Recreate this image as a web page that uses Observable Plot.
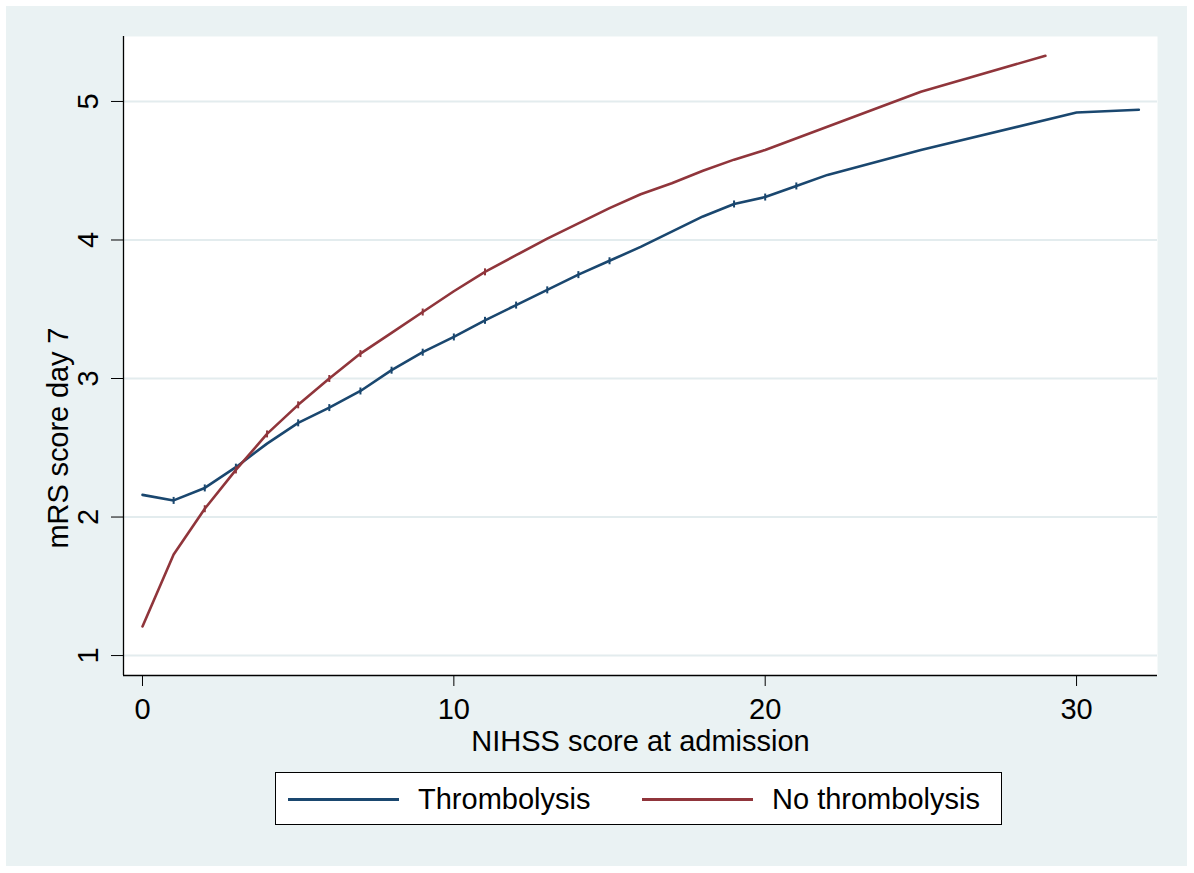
<!DOCTYPE html>
<html>
<head>
<meta charset="utf-8">
<script src="https://cdn.jsdelivr.net/npm/d3@7"></script>
<script src="https://cdn.jsdelivr.net/npm/@observablehq/plot@0.6"></script>
<style>
  html, body { margin: 0; padding: 0; background: #ffffff; }
  body { width: 1194px; height: 873px; position: relative; font-family: "Liberation Sans", Arial, sans-serif; }
  #bg { position: absolute; left: 6px; top: 6px; width: 1181px; height: 860px; background: #eaf2f3; }
  #chart { position: absolute; left: 0; top: 0; }
  #legend { position: absolute; left: 269px; top: 766px; width: 727px; height: 53px; background: #fff; border: 1px solid #000; box-sizing: border-box; }
  #legend .sw { position: absolute; top: 25px; height: 3px; }
  #legend .lb { position: absolute; top: 9px; font-size: 29px; line-height: 34px; color: #000; white-space: nowrap; }
</style>
</head>
<body>
<div id="bg">
  <div id="chart"></div>
  <div id="legend"></div>
</div>
<script>
// ---- data ----
const seriesNames = ["Thrombolysis", "No thrombolysis"];
const seriesColors = ["#1a476f", "#90353b"];

const nihssThromb = [0,1,2,3,4,5,6,7,8,9,10,11,12,13,14,15,16,17,18,19,20,21,22,25,30,32];
const mrsThromb   = [2.16,2.12,2.21,2.36,2.53,2.68,2.79,2.91,3.06,3.19,3.30,3.42,3.53,3.64,3.75,3.85,3.95,4.06,4.17,4.26,4.31,4.39,4.47,4.65,4.92,4.94];

const nihssNoThromb = [0,1,2,3,4,5,6,7,8,9,10,11,12,13,14,15,16,17,18,19,20,25,29];
const mrsNoThromb   = [1.21,1.73,2.06,2.34,2.60,2.81,3.00,3.18,3.33,3.48,3.63,3.77,3.89,4.01,4.12,4.23,4.33,4.41,4.50,4.58,4.65,5.07,5.33];

// x positions where the small vertical tick artefacts appear on each line
const tickMarksThromb = [1,2,3,5,6,7,8,9,10,11,12,13,14,15,19,20,21];
const tickMarksNoThromb = [2,3,4,5,6,7,9,11];

const xTicks = [0, 10, 20, 30];
const yTicks = [1, 2, 3, 4, 5];
const xTitle = "NIHSS score at admission";
const yTitle = "mRS score day 7";

// ---- build table ----
const rows = [];
nihssThromb.forEach((x, i) => rows.push({group: seriesNames[0], x, y: mrsThromb[i]}));
nihssNoThromb.forEach((x, i) => rows.push({group: seriesNames[1], x, y: mrsNoThromb[i]}));
const tickRows = rows.filter(d =>
  (d.group === seriesNames[0] && tickMarksThromb.includes(d.x)) ||
  (d.group === seriesNames[1] && tickMarksNoThromb.includes(d.x)));

const vbar = {
  draw(context, size) {
    const h = Math.sqrt(size / Math.PI);
    context.moveTo(0, -h);
    context.lineTo(0, h);
  }
};

const xDomain = [-0.61, 32.6];
const yDomain = [0.856, 5.469];

const chart = Plot.plot({
  width: 1181,
  height: 760,
  marginLeft: 117,
  marginRight: 30,
  marginTop: 30,
  marginBottom: 91,
  style: {fontFamily: "'Liberation Sans', Arial, sans-serif", fontSize: "29px", background: "transparent", color: "#000"},
  x: {domain: xDomain},
  y: {domain: yDomain},
  color: {domain: seriesNames, range: seriesColors},
  marks: [
    Plot.frame({fill: "#ffffff", stroke: null}),
    Plot.gridY({ticks: yTicks, stroke: "#e3ecee", strokeOpacity: 1, strokeWidth: 2}),
    Plot.ruleX([xDomain[0]], {stroke: "#000", strokeWidth: 1.3}),
    Plot.ruleY([yDomain[0]], {stroke: "#000", strokeWidth: 1.3}),
    Plot.axisX({ticks: xTicks, tickSize: 11, tickPadding: 12, label: null, fontSize: 29, stroke: "#000"}),
    Plot.axisY({ticks: yTicks, tickSize: 12, tickFormat: () => "", label: null, stroke: "#000"}),
    Plot.text(yTicks, {frameAnchor: "left", y: d => d, text: d => String(d), rotate: -90, dx: -35, fontSize: 29, textAnchor: "middle", lineAnchor: "middle"}),
    Plot.text([yTitle], {frameAnchor: "left", rotate: -90, dx: -65, dy: 82, fontSize: 29, textAnchor: "middle", lineAnchor: "middle"}),
    Plot.text([xTitle], {frameAnchor: "bottom", dy: 66, fontSize: 29, textAnchor: "middle", lineAnchor: "middle"}),
    Plot.line(rows, {x: "x", y: "y", z: "group", stroke: "group", strokeWidth: 2.6}),
    Plot.dot(tickRows, {x: "x", y: "y", stroke: "group", symbol: vbar, r: 3.5, strokeWidth: 2, fill: "none"})
  ]
});
document.getElementById("chart").appendChild(chart);
d3.select(chart).selectAll("text").filter(function () { return this.textContent === yTitle; })
  .attr("textLength", 221).attr("lengthAdjust", "spacing");

// ---- legend ----
const legend = document.getElementById("legend");
const swLeft = [12, 366];
const swWidth = [111, 111];
const lbLeft = [142, 496];
seriesNames.forEach((name, i) => {
  const sw = document.createElement("div");
  sw.className = "sw";
  sw.style.left = swLeft[i] + "px";
  sw.style.width = swWidth[i] + "px";
  sw.style.background = seriesColors[i];
  legend.appendChild(sw);
  const lb = document.createElement("div");
  lb.className = "lb";
  lb.style.left = lbLeft[i] + "px";
  lb.textContent = name;
  legend.appendChild(lb);
});
</script>
</body>
</html>
